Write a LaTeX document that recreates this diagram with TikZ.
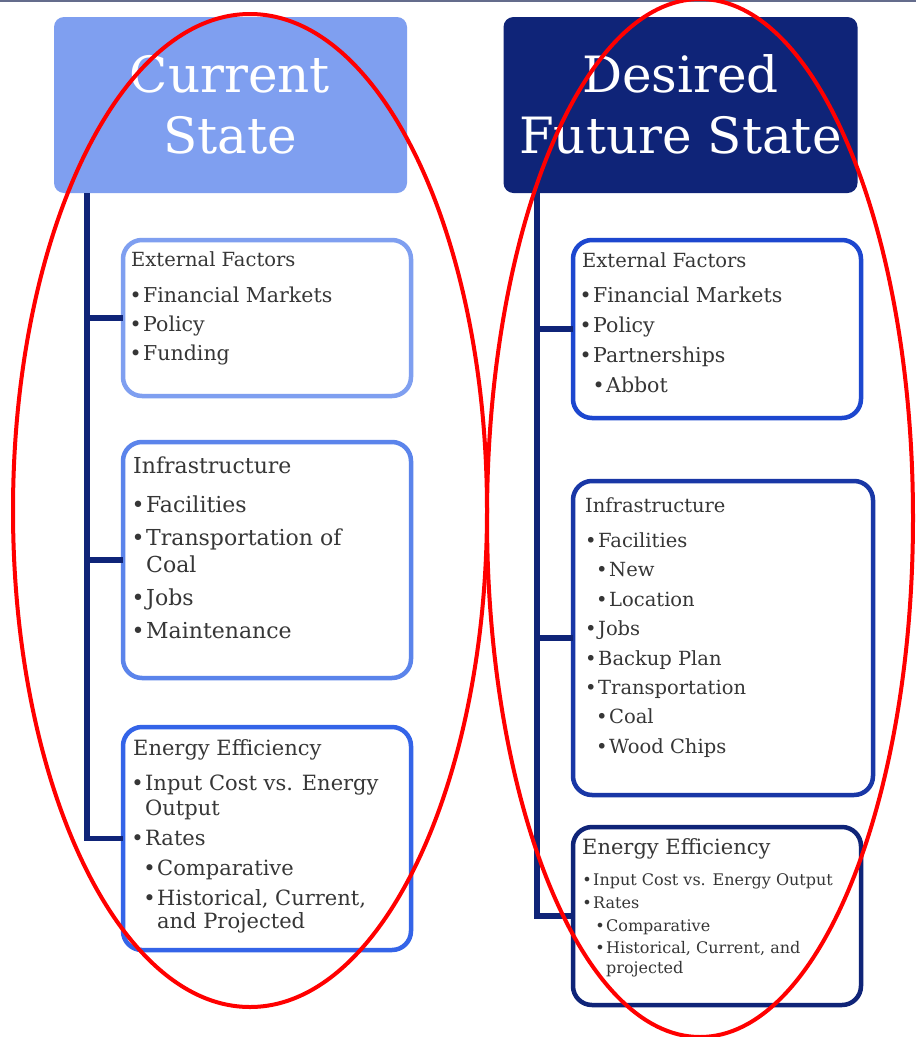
\documentclass[tikz,border=0pt]{standalone}
\usepackage{fontspec}
\setmainfont{DejaVu Serif}
\definecolor{navy}{HTML}{0F2478}
\definecolor{lightblue}{HTML}{7F9FF0}
\definecolor{midblue}{HTML}{5B84EB}
\definecolor{brightblue}{HTML}{3464E8}
\definecolor{royal}{HTML}{1D47CF}
\definecolor{deepblue}{HTML}{1937A6}
\definecolor{ink}{HTML}{363636}
\definecolor{topline}{HTML}{646C8C}
\newcommand\bul{\llap{•\hspace{1.5pt}}}
\newcommand\fs[1]{\fontsize{#1}{#1}\selectfont}
\begin{document}
\begin{tikzpicture}[x=1pt,y=-1pt,
  hdr/.style={rounded corners=10pt, inner sep=0pt, outer sep=0pt, anchor=north west},
  hdrtext/.style={anchor=base, inner sep=0pt, text=white, font=\fs{50}},
  card/.style={draw, line width=4.5pt, fill=white, rounded corners=19pt,
    inner sep=0pt, outer sep=0pt, anchor=north west},
  spine/.style={draw=navy, line width=5.5pt},
  ln/.style={anchor=base west, inner sep=0pt, text=ink},
  ring/.style={draw=red, line width=4pt}]
\useasboundingbox (0,0) rectangle (916,1037);
\fill[white] (0,0) rectangle (916,1037);
\fill[topline] (0,0) rectangle (916,1.5);

% column headers
\node[hdr, fill=lightblue, minimum width=353pt, minimum height=176pt] (hL) at (54,17) {};
\node[hdr, fill=navy, minimum width=354pt, minimum height=176pt] (hR) at (503.5,17) {};
\node[hdrtext] (hL1) at (230,92) {Current};
\node[hdrtext] (hL2) at (230,153) {State};
\node[hdrtext] (hR1) at (680.5,92) {Desired};
\node[hdrtext] (hR2) at (680.5,153) {Future State};

% cards
\node[card, draw=lightblue, minimum width=288pt, minimum height=156pt] (bL1) at (123,240) {};
\node[card, draw=midblue, minimum width=288pt, minimum height=236pt] (bL2) at (123,442) {};
\node[card, draw=brightblue, minimum width=288pt, minimum height=223pt] (bL3) at (123,727) {};
\node[card, draw=royal, minimum width=288pt, minimum height=178pt] (bR1) at (573,240) {};
\node[card, draw=deepblue, minimum width=300pt, minimum height=314pt] (bR2) at (573,481) {};
\node[card, draw=navy, minimum width=288pt, minimum height=178pt] (bR3) at (573,827) {};

% spines
\coordinate (sL) at (87,0);
\coordinate (sR) at (537,0);
\draw[spine] (hL.south -| sL) |- (bL3.west);
\draw[spine] (bL1.west -| sL) -- (bL1.west);
\draw[spine] (bL2.west -| sL) -- (bL2.west);
\draw[spine] (hR.south -| sR) |- (bR3.west);
\draw[spine] (bR1.west -| sR) -- (bR1.west);
\draw[spine] (bR2.west -| sR) -- (bR2.west);

% current state: external factors
\node[ln, font=\fs{19.5}] (tL1h) at (131,266) {External Factors};
\node[ln, font=\fs{20.5}] (tL1a) at (143,302) {\bul Financial Markets};
\node[ln, font=\fs{20.5}] (tL1b) at (143,331) {\bul Policy};
\node[ln, font=\fs{20.5}] (tL1c) at (143,360) {\bul Funding};

% current state: infrastructure
\node[ln, font=\fs{22}] (tL2h) at (133,473) {Infrastructure};
\node[ln, font=\fs{22}] (tL2a) at (146,512) {\bul Facilities};
\node[ln, font=\fs{22}] (tL2b) at (146,545) {\bul Transportation of};
\node[ln, font=\fs{22}] (tL2c) at (146,572) {Coal};
\node[ln, font=\fs{22}] (tL2d) at (146,605) {\bul Jobs};
\node[ln, font=\fs{22}] (tL2e) at (146,638) {\bul Maintenance};

% current state: energy efficiency
\node[ln, font=\fs{21}] (tL3h) at (133,755) {Energy Efficiency};
\node[ln, font=\fs{21}] (tL3a) at (145,790) {\bul Input Cost vs. Energy};
\node[ln, font=\fs{21}] (tL3b) at (145,815) {Output};
\node[ln, font=\fs{21}] (tL3c) at (145,845) {\bul Rates};
\node[ln, font=\fs{21}] (tL3d) at (157,875) {\bul Comparative};
\node[ln, font=\fs{21}] (tL3e) at (157,905) {\bul Historical, Current,};
\node[ln, font=\fs{21}] (tL3f) at (157,928) {and Projected};

% desired state: external factors
\node[ln, font=\fs{19.5}] (tR1h) at (582,267) {External Factors};
\node[ln, font=\fs{20.5}] (tR1a) at (593,302) {\bul Financial Markets};
\node[ln, font=\fs{20.5}] (tR1b) at (593,332) {\bul Policy};
\node[ln, font=\fs{20.5}] (tR1c) at (593,362) {\bul Partnerships};
\node[ln, font=\fs{20.5}] (tR1d) at (606,392) {\bul Abbot};

% desired state: infrastructure
\node[ln, font=\fs{19.5}] (tR2h) at (585,512) {Infrastructure};
\node[ln, font=\fs{19.5}] (tR2a) at (598,547) {\bul Facilities};
\node[ln, font=\fs{19.5}] (tR2b) at (609,576) {\bul New};
\node[ln, font=\fs{19.5}] (tR2c) at (609,606) {\bul Location};
\node[ln, font=\fs{19.5}] (tR2d) at (598,635) {\bul Jobs};
\node[ln, font=\fs{19.5}] (tR2e) at (598,665) {\bul Backup Plan};
\node[ln, font=\fs{19.5}] (tR2f) at (598,694) {\bul Transportation};
\node[ln, font=\fs{19.5}] (tR2g) at (609,723) {\bul Coal};
\node[ln, font=\fs{19.5}] (tR2i) at (609,753) {\bul Wood Chips};

% desired state: energy efficiency
\node[ln, font=\fs{21}] (tR3h) at (582,854) {Energy Efficiency};
\node[ln, font=\fs{16}] (tR3a) at (593,885) {\bul Input Cost vs. Energy Output};
\node[ln, font=\fs{16}] (tR3b) at (593,908) {\bul Rates};
\node[ln, font=\fs{16}] (tR3c) at (606,931) {\bul Comparative};
\node[ln, font=\fs{16}] (tR3d) at (606,953) {\bul Historical, Current, and};
\node[ln, font=\fs{16}] (tR3e) at (606,973) {projected};

% highlight rings
\draw[ring] (250,510.5) ellipse [x radius=237, y radius=496.5];
\draw[ring] (700,518) ellipse [x radius=213, y radius=519];
\end{tikzpicture}
\end{document}
